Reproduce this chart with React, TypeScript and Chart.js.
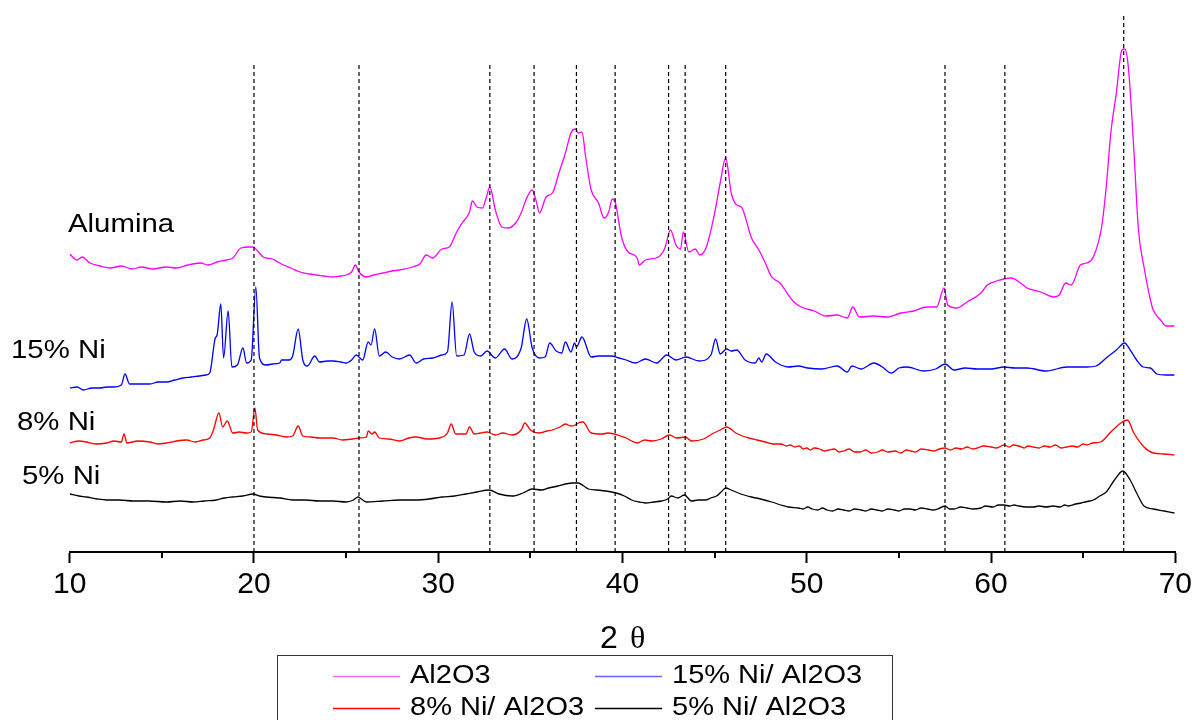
import React, { useEffect, useRef } from "react";
import { Chart, registerables } from "chart.js";

Chart.register(...registerables);

// ---- axis ----
const xMin = 10;
const xMax = 70;
const majorStep = 10;
const minorTicks = [15, 25, 35, 45, 55, 65];
const xTitleMain = "2";
const xTitleSymbol = "θ";

// ---- legend / labels ----
const seriesLabels = ["Al2O3", "15% Ni/ Al2O3", "8% Ni/ Al2O3", "5% Ni/ Al2O3"];
const seriesColors = ["#FF00FF", "#0000FF", "#FF0000", "#000000"];
const traceLabels = ["Alumina", "15% Ni", "8% Ni", "5% Ni"];

// ---- reference (dashed) lines ----
const refLineX = [20, 25.7, 32.8, 35.2, 37.5, 39.6, 42.5, 43.4, 45.6, 57.5, 60.75, 67.2];
const refLineTop = [490, 490, 490, 490, 490, 490, 490, 490, 490, 490, 490, 537];

// ---- Al2O3 (alumina) ----
const aluminaX = [10.0, 10.4, 10.67, 11.1, 11.65, 12.2, 12.8, 13.4, 13.9, 14.5, 15.25, 15.8, 16.4, 17.1, 17.5, 18.0, 18.5, 18.85, 19.3, 19.75, 19.95, 20.2, 20.5, 21.0, 21.3, 21.6, 22.0, 22.5, 23.0, 23.4, 23.8, 24.3, 24.7, 25.0, 25.3, 25.5, 25.7, 26.1, 26.5, 27.0, 27.5, 27.9, 28.6, 29.0, 29.35, 29.7, 30.2, 30.6, 31.0, 31.3, 31.7, 31.85, 32.1, 32.4, 32.6, 32.8, 33.1, 33.45, 33.8, 34.2, 34.5, 34.8, 35.1, 35.3, 35.5, 35.85, 36.2, 36.55, 36.9, 37.2, 37.45, 37.6, 37.8, 38.0, 38.3, 38.7, 39.0, 39.25, 39.45, 39.6, 39.95, 40.3, 40.8, 40.9, 41.25, 41.95, 42.3, 42.6, 42.9, 43.15, 43.3, 43.6, 43.95, 44.2, 44.55, 45.0, 45.3, 45.6, 45.9, 46.2, 46.45, 47.0, 47.4, 47.75, 48.1, 48.55, 49.0, 49.3, 49.7, 50.4, 51.05, 51.65, 52.2, 52.5, 52.85, 53.65, 54.35, 55.1, 55.8, 56.5, 57.05, 57.45, 57.65, 58.15, 58.7, 59.45, 59.8, 60.3, 61.1, 61.6, 61.95, 62.7, 63.4, 63.7, 64.05, 64.35, 64.85, 65.2, 65.55, 66.0, 66.25, 66.5, 66.8, 67.1, 67.25, 67.45, 67.75, 68.0, 68.3, 68.65, 68.8, 69.2, 69.5, 69.95];
const aluminaY = [298, 292, 295, 289, 286, 284, 286, 283, 285, 283, 285, 284, 287, 289, 287, 290, 292, 294, 304, 305, 305, 301, 295, 293, 290, 287, 284, 280, 278, 277, 276, 275, 276, 277, 280, 287, 280, 275, 277, 279, 281, 282, 285, 288, 297, 294, 303, 305, 320, 329, 340, 351, 345, 344, 354, 365, 342, 325, 324, 329, 339, 354, 362, 352, 339, 355, 359, 379, 399, 419, 423, 419, 420, 395, 362, 349, 334, 340, 353, 350, 315, 300, 294, 287, 292, 295, 304, 322, 307, 303, 320, 300, 303, 297, 305, 339, 369, 394, 359, 347, 345, 314, 302, 289, 275, 269, 257, 250, 245, 241, 236, 237, 234, 245, 235, 236, 235, 239, 241, 245, 245, 264, 247, 244, 250, 259, 267, 271, 274, 269, 264, 260, 255, 257, 269, 267, 287, 289, 295, 325, 365, 419, 459, 502, 503, 485, 402, 322, 285, 252, 242, 232, 226, 226];

// ---- 15% Ni/ Al2O3 ----
const ni15X = [10.0, 10.4, 10.75, 11.2, 11.65, 12.0, 12.4, 12.8, 13.0, 13.25, 13.8, 14.35, 14.8, 15.25, 15.7, 16.15, 16.6, 17.05, 17.4, 17.6, 17.9, 18.0, 18.2, 18.35, 18.6, 18.8, 19.1, 19.4, 19.6, 19.85, 20.1, 20.3, 20.65, 21.0, 21.4, 21.5, 21.9, 22.1, 22.4, 22.65, 22.9, 23.3, 23.55, 24.0, 24.3, 24.7, 25.0, 25.3, 25.55, 25.9, 26.2, 26.35, 26.55, 26.8, 27.15, 27.5, 27.9, 28.45, 28.8, 29.2, 29.7, 30.2, 30.5, 30.75, 31.0, 31.4, 31.7, 31.95, 32.3, 32.65, 33.1, 33.6, 34.0, 34.5, 34.8, 35.1, 35.5, 35.8, 36.05, 36.4, 36.7, 36.9, 37.2, 37.4, 37.5, 37.8, 38.3, 38.7, 39.4, 39.8, 40.2, 40.7, 41.25, 41.85, 42.4, 42.9, 43.45, 44.15, 44.8, 45.05, 45.3, 45.65, 45.9, 46.2, 46.65, 47.2, 47.4, 47.55, 47.8, 48.3, 49.0, 49.55, 50.05, 50.8, 51.65, 52.2, 52.45, 52.95, 53.65, 54.1, 54.6, 55.0, 55.45, 56.35, 57.0, 57.5, 58.0, 58.6, 59.25, 60.0, 60.7, 61.3, 61.95, 63.0, 64.1, 65.2, 65.7, 66.25, 66.8, 67.25, 67.55, 67.9, 68.25, 68.65, 69.0, 69.5, 69.95];
const ni15Y = [164, 165, 162, 164, 164, 165, 165, 167, 178, 168, 168, 168, 170, 170, 172, 174, 175, 176, 177, 179, 214, 217, 248, 194, 241, 185, 187, 204, 189, 192, 265, 194, 187, 188, 189, 192, 192, 196, 223, 192, 186, 196, 190, 191, 191, 190, 189, 192, 197, 192, 210, 207, 223, 196, 200, 195, 193, 197, 189, 193, 194, 197, 200, 250, 196, 197, 218, 200, 196, 201, 194, 203, 193, 204, 233, 204, 194, 195, 209, 201, 199, 210, 200, 209, 205, 215, 195, 196, 196, 194, 192, 189, 193, 189, 197, 192, 195, 191, 197, 213, 198, 203, 201, 202, 192, 189, 194, 190, 198, 190, 185, 186, 184, 183, 186, 180, 186, 183, 189, 185, 179, 184, 185, 181, 183, 188, 182, 184, 183, 183, 185, 184, 184, 181, 185, 185, 186, 194, 202, 209, 202, 192, 185, 184, 178, 177, 177];

// ---- 8% Ni/ Al2O3 ----
const ni8X = [10.0, 10.5, 10.9, 11.4, 12.0, 12.4, 12.8, 12.95, 13.1, 13.7, 14.35, 14.8, 15.25, 15.8, 16.35, 16.8, 17.25, 17.6, 17.8, 18.1, 18.3, 18.55, 18.85, 19.2, 19.6, 19.85, 20.05, 20.2, 20.7, 21.2, 21.75, 22.1, 22.4, 22.65, 23.1, 23.55, 24.3, 24.8, 25.35, 25.7, 26.1, 26.2, 26.4, 26.55, 26.8, 27.3, 27.9, 28.4, 28.8, 29.4, 30.05, 30.5, 30.7, 30.95, 31.5, 31.7, 31.95, 32.3, 32.65, 33.1, 33.5, 34.0, 34.5, 34.7, 35.0, 35.5, 35.9, 36.2, 36.6, 36.9, 37.2, 37.45, 37.6, 37.85, 38.3, 38.9, 39.2, 39.55, 39.9, 40.2, 40.5, 40.8, 41.2, 41.6, 42.1, 42.55, 42.95, 43.4, 43.75, 44.4, 44.95, 45.3, 45.65, 46.15, 46.5, 46.85, 47.3, 47.75, 48.2, 48.6, 48.9, 49.1, 49.35, 49.6, 49.8, 50.0, 50.2, 50.4, 50.7, 50.95, 51.2, 51.5, 51.75, 52.0, 52.3, 52.6, 52.9, 53.2, 53.5, 53.85, 54.1, 54.4, 54.8, 55.1, 55.4, 55.65, 55.9, 56.2, 56.6, 56.9, 57.2, 57.5, 57.8, 58.1, 58.4, 58.7, 59.0, 59.25, 59.6, 60.0, 60.3, 60.7, 61.0, 61.2, 61.5, 61.8, 62.0, 62.3, 62.6, 62.9, 63.2, 63.5, 63.8, 64.1, 64.4, 64.7, 65.0, 65.2, 65.5, 65.95, 66.5, 67.05, 67.4, 67.75, 68.3, 68.8, 69.4, 69.95];
const ni8Y = [109, 111, 110, 108, 109, 111, 110, 118, 109, 111, 110, 108, 109, 111, 112, 110, 112, 114, 122, 139, 125, 131, 119, 120, 119, 120, 144, 122, 118, 117, 115, 116, 126, 116, 115, 114, 114, 112, 113, 114, 115, 121, 118, 120, 114, 113, 111, 114, 115, 113, 114, 119, 128, 118, 118, 125, 118, 119, 120, 117, 119, 117, 122, 129, 122, 119, 121, 122, 125, 128, 126, 127, 129, 130, 119, 118, 119, 118, 116, 114, 111, 109, 112, 111, 113, 117, 114, 115, 111, 113, 119, 122, 125, 119, 116, 114, 112, 110, 108, 108, 106, 107, 105, 106, 103, 104, 102, 104, 103, 101, 102, 103, 100, 101, 103, 100, 100, 102, 99, 100, 102, 100, 101, 99, 102, 101, 100, 103, 102, 101, 103, 104, 102, 104, 103, 105, 103, 104, 106, 105, 104, 107, 105, 107, 106, 104, 106, 105, 104, 106, 105, 107, 104, 105, 106, 105, 108, 107, 109, 110, 120, 129, 132, 119, 105, 99, 98, 97];

// ---- 5% Ni/ Al2O3 ----
const ni5X = [10.0, 10.5, 10.9, 11.5, 12.0, 12.7, 13.45, 14.3, 15.25, 16.0, 16.7, 17.3, 17.95, 18.4, 18.85, 19.4, 19.95, 20.3, 20.65, 21.4, 22.1, 22.8, 23.55, 24.3, 25.0, 25.4, 25.65, 25.9, 26.1, 27.0, 27.9, 28.8, 29.5, 30.2, 30.9, 31.5, 32.1, 32.75, 33.3, 34.0, 34.6, 35.1, 35.6, 36.0, 36.5, 36.9, 37.3, 37.6, 37.9, 38.15, 38.6, 39.1, 39.65, 40.1, 40.5, 40.9, 41.25, 41.7, 42.1, 42.45, 42.65, 43.0, 43.35, 43.75, 44.1, 44.5, 44.8, 45.1, 45.35, 45.6, 45.9, 46.15, 46.6, 47.0, 47.5, 48.1, 48.6, 49.0, 49.55, 49.8, 50.05, 50.3, 50.6, 50.85, 51.1, 51.4, 51.7, 52.0, 52.3, 52.6, 52.95, 53.2, 53.5, 53.8, 54.1, 54.4, 54.75, 55.0, 55.3, 55.6, 55.9, 56.2, 56.55, 56.85, 57.1, 57.5, 57.75, 58.0, 58.35, 58.7, 59.0, 59.45, 59.7, 60.1, 60.4, 60.7, 61.0, 61.25, 61.5, 61.9, 62.3, 62.6, 63.0, 63.35, 63.75, 64.0, 64.2, 64.6, 64.9, 65.1, 65.35, 65.55, 65.9, 66.25, 66.7, 67.15, 67.55, 67.9, 68.3, 68.8, 69.4, 69.95];
const ni5Y = [58, 56, 55, 53, 52, 52, 51, 51, 50, 51, 50, 51, 52, 54, 55, 56, 58, 56, 55, 54, 52, 52, 51, 51, 50, 52, 55, 52, 50, 51, 52, 52, 53, 55, 56, 58, 60, 62, 58, 56, 59, 63, 62, 64, 66, 68, 69, 69, 66, 63, 62, 61, 59, 56, 52, 50, 49, 50, 51, 53, 56, 54, 57, 51, 52, 52, 54, 56, 60, 64, 62, 60, 57, 55, 53, 50, 47, 45, 44, 43, 45, 43, 42, 44, 42, 41, 43, 42, 41, 43, 42, 41, 43, 42, 41, 43, 42, 41, 43, 43, 42, 44, 43, 42, 43, 46, 43, 43, 45, 44, 43, 44, 46, 45, 47, 47, 46, 47, 46, 45, 45, 46, 45, 46, 45, 47, 46, 48, 49, 50, 51, 52, 56, 60, 72, 81, 72, 59, 46, 43, 41, 39];

const seriesX = [aluminaX, ni15X, ni8X, ni5X];
const seriesY = [aluminaY, ni15Y, ni8Y, ni5Y];

function drawStretched(ctx: CanvasRenderingContext2D, text: string, x: number, y: number, font: string, sx: number) {
  ctx.save();
  ctx.font = font;
  ctx.fillStyle = "#000";
  ctx.textAlign = "left";
  ctx.textBaseline = "alphabetic";
  ctx.translate(x, y);
  ctx.scale(sx, 1);
  ctx.fillText(text, 0, 0);
  ctx.restore();
}

const overlayPlugin = {
  id: "overlay",
  afterDraw(chart: any) {
    const ctx: CanvasRenderingContext2D = chart.ctx;
    const xs = chart.scales.x;
    const area = chart.chartArea;
    ctx.save();
    // minor ticks
    ctx.strokeStyle = "#000";
    ctx.lineWidth = 2;
    minorTicks.forEach((v) => {
      const px = Math.round(xs.getPixelForValue(v));
      ctx.beginPath();
      ctx.moveTo(px, area.bottom);
      ctx.lineTo(px, area.bottom + 6);
      ctx.stroke();
    });
    // trace labels
    const labelFont = "26px 'Liberation Sans', Arial, sans-serif";
    const labelPos = [
      [68, 232],
      [11, 358],
      [17, 430],
      [22, 484],
    ];
    traceLabels.forEach((t, i) => drawStretched(ctx, t, labelPos[i][0], labelPos[i][1], labelFont, 1.13));
    // x title
    ctx.fillStyle = "#000";
    ctx.textBaseline = "alphabetic";
    ctx.textAlign = "left";
    ctx.font = "32px 'Liberation Sans', Arial, sans-serif";
    ctx.fillText(xTitleMain, 600, 648);
    ctx.font = "32px 'Liberation Serif', 'Times New Roman', serif";
    ctx.fillText(xTitleSymbol, 630, 648);
    // legend
    ctx.strokeStyle = "#333";
    ctx.lineWidth = 1;
    ctx.strokeRect(277.5, 655.5, 615, 80);
    const legFont = "25px 'Liberation Sans', Arial, sans-serif";
    const cols = [333, 595];
    const rows = [676, 708];
    seriesLabels.forEach((lab, i) => {
      const cx = cols[i % 2];
      const cy = rows[Math.floor(i / 2)];
      ctx.strokeStyle = seriesColors[i];
      ctx.globalAlpha = i < 2 ? 0.6 : 1;
      ctx.lineWidth = 1.5;
      ctx.beginPath();
      ctx.moveTo(cx, cy + 0.5);
      ctx.lineTo(cx + 67, cy + 0.5);
      ctx.stroke();
      ctx.globalAlpha = 1;
      drawStretched(ctx, lab, cx + 77, cy + 7, legFont, 1.16);
    });
    ctx.restore();
  },
};

export default function App() {
  const canvasRef = useRef<HTMLCanvasElement | null>(null);

  useEffect(() => {
    const canvas = canvasRef.current;
    if (!canvas) return;

    const curveSets = seriesLabels.map((lab, i) => ({
      label: lab,
      data: seriesX[i].map((x, j) => ({ x, y: seriesY[i][j] })),
      borderColor: seriesColors[i],
      borderWidth: 1.3,
      pointRadius: 0,
      cubicInterpolationMode: "monotone",
      fill: false,
      order: 2,
    }));

    const refSets = refLineX.map((x, i) => ({
      label: "ref" + i,
      data: [
        { x, y: 0 },
        { x, y: refLineTop[i] },
      ],
      borderColor: "#000",
      borderWidth: 1.2,
      borderDash: [4, 3],
      pointRadius: 0,
      fill: false,
      order: 1,
    }));

    const chart = new Chart(canvas, {
      type: "line",
      data: { datasets: [...curveSets, ...refSets] as any },
      options: {
        animation: false,
        responsive: false,
        devicePixelRatio: 1,
        layout: { padding: { left: 69.7, right: 18, top: 12, bottom: 0 } },
        plugins: {
          legend: { display: false },
          tooltip: { enabled: false },
          title: { display: false },
        },
        scales: {
          x: {
            type: "linear",
            min: xMin,
            max: xMax,
            position: "bottom",
            border: { display: true, color: "#000", width: 2 },
            grid: {
              display: true,
              drawOnChartArea: false,
              drawTicks: true,
              tickLength: 11,
              tickColor: "#000",
              tickWidth: 2,
            },
            ticks: {
              stepSize: majorStep,
              autoSkip: false,
              maxRotation: 0,
              padding: 4,
              color: "#000",
              font: { family: "'Liberation Sans', Arial, sans-serif", size: 30 },
            },
            afterFit: (scale: any) => {
              scale.height = 168;
            },
          },
          y: {
            type: "linear",
            display: false,
            min: 0,
            max: 540,
          },
        },
      },
      plugins: [overlayPlugin],
    });

    return () => chart.destroy();
  }, []);

  return (
    <div style={{ position: "fixed", left: 0, top: 0, width: 1196, height: 720, background: "#fff" }}>
      <canvas ref={canvasRef} width={1196} height={720} style={{ width: 1196, height: 720, display: "block" }} />
    </div>
  );
}
